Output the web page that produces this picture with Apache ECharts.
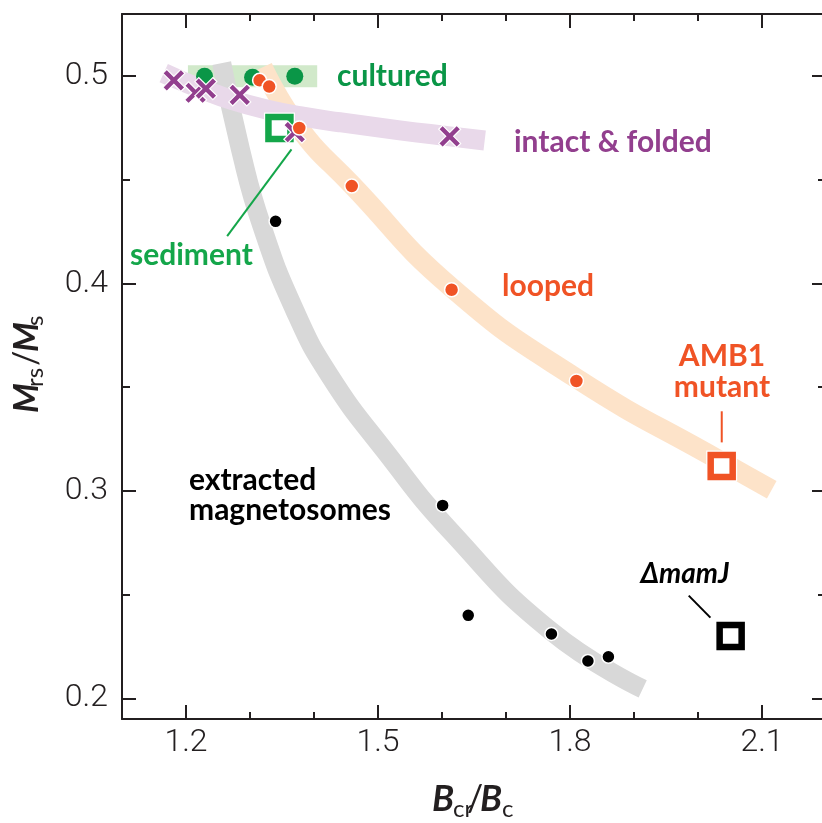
<!DOCTYPE html>
<html><head><meta charset="utf-8">
<script src="https://cdn.jsdelivr.net/npm/echarts@6/dist/echarts.min.js"></script>
<style>html,body{margin:0;padding:0;background:#fff}#c{width:822px;height:823px}</style>
</head><body><div id="c"></div>
<script>
// ---- tick values ----
const xMajorTicks = [1.2, 1.5, 1.8, 2.1];
const xMinorTicks = [1.3, 1.4, 1.6, 1.7, 1.9, 2.0];
const yMajorTicks = [0.2, 0.3, 0.4, 0.5];
const yMinorTicks = [0.25, 0.35, 0.45];

// ---- data points [Bcr/Bc, Mrs/Ms] ----
const cultured = [[1.229, 0.500], [1.304, 0.4995], [1.370, 0.500]];
const looped = [[1.315, 0.498], [1.330, 0.495], [1.377, 0.475], [1.459, 0.447], [1.615, 0.397], [1.810, 0.353]];
const intactFolded = [[1.181, 0.498], [1.215, 0.492], [1.231, 0.494], [1.284, 0.491], [1.370, 0.473], [1.612, 0.471]];
const extracted = [[1.340, 0.430], [1.601, 0.293], [1.641, 0.240], [1.771, 0.231], [1.828, 0.218], [1.860, 0.220]];
const sediment = [[1.346, 0.475]];
const amb1Mutant = [[2.037, 0.312]];
const mamJ = [[2.051, 0.230]];

// ---- trend bands ----
const culturedBand = [[1.203, 0.500], [1.405, 0.500]];
const extractedBand = [[1.2558, 0.5063], [1.2855, 0.4642], [1.3183, 0.4280], [1.3700, 0.3870], [1.4245, 0.3556], [1.5105, 0.3194], [1.6167, 0.2795], [1.7698, 0.2325], [1.9136, 0.2045]];
const loopedBand = [[1.3198, 0.5043], [1.3761, 0.4753], [1.4589, 0.4477], [1.6152, 0.3980], [1.8089, 0.3545], [2.0370, 0.3141], [2.1152, 0.3006]];
const intactBand = [[1.1652, 0.5015], [1.1902, 0.4981], [1.2214, 0.4942], [1.2730, 0.4884], [1.3308, 0.4836], [1.3777, 0.4807], [1.4402, 0.4778], [1.5340, 0.4739], [1.6120, 0.4710], [1.6667, 0.4690]];

// ---- annotation leader lines ----
const sedimentLeader = [[1.3648, 0.4647], [1.2643, 0.4229]];
const amb1Leader = [[2.0371, 0.3384], [2.0371, 0.3234]];
const mamJLeader = [[1.9855, 0.2495], [2.0194, 0.2389]];

const INK = '#231f20';
const GREEN = '#0a9647', GREEN_SQ = '#14a64a', PURPLE = '#923f8e', ORANGE = '#f05325';
const X_PATH = 'path://M0,1.8L1.8,0L5,3.2L8.2,0L10,1.8L6.8,5L10,8.2L8.2,10L5,6.8L1.8,10L0,8.2L3.2,5Z';

const chart = echarts.init(document.getElementById('c'), null, {renderer: 'canvas'});

function xAx(pos, ticks, len, showLine, showLabel) {
  return {
    type: 'value', min: 1.1, max: 2.2, position: pos,
    axisLine: {show: showLine, onZero: false, lineStyle: {color: INK, width: 2}},
    axisTick: {show: true, inside: true, length: len, customValues: ticks, lineStyle: {color: INK, width: 2}},
    axisLabel: {show: showLabel, customValues: ticks, formatter: v => v.toFixed(1), margin: 8,
      fontFamily: 'Roboto', fontWeight: 300, fontSize: 32, color: INK},
    splitLine: {show: false}, minorTick: {show: false}, axisPointer: {show: false}
  };
}
function yAx(pos, ticks, len, showLine, showLabel) {
  return {
    type: 'value', min: 0.19, max: 0.53, position: pos,
    axisLine: {show: showLine, onZero: false, lineStyle: {color: INK, width: 2}},
    axisTick: {show: true, inside: true, length: len, customValues: ticks, lineStyle: {color: INK, width: 2}},
    axisLabel: {show: showLabel, customValues: ticks, formatter: v => v.toFixed(1), margin: 14,
      fontFamily: 'Roboto', fontWeight: 300, fontSize: 32, color: INK},
    splitLine: {show: false}, minorTick: {show: false}
  };
}
function band(data, color, width) {
  return {type: 'line', data: data, smooth: true, symbol: 'none', silent: true,
    lineStyle: {color: color, width: width, cap: 'butt', join: 'round', opacity: 1}, z: 1};
}
function leader(data, color) {
  return {type: 'line', data: data, symbol: 'none', silent: true, lineStyle: {color: color, width: 2}, z: 2};
}
function pts(data, symbol, size, style, z) {
  return {type: 'scatter', data: data, symbol: symbol, symbolSize: size,
    itemStyle: Object.assign({opacity: 1}, style), emphasis: {disabled: true}, z: z};
}
function txt(text, x, y, font, color, align) {
  return {type: 'text', x: x, y: y, z: 100,
    style: {text: text, font: font, fill: color, textAlign: align || 'left', textVerticalAlign: 'middle',
      align: align || 'left', verticalAlign: 'middle'}};
}
function rtxt(text, x, y, font, color) {
  const t = txt(text, x, y, font, color, 'left');
  t.rotation = Math.PI / 2;
  return t;
}

const BOLD = 'bold 30px Lato';
const option = {
  animation: false,
  backgroundColor: '#fff',
  grid: {left: 122, top: 14, width: 704, height: 705, containLabel: false, outerBoundsMode: 'none'},
  xAxis: [
    xAx('bottom', xMajorTicks, 14, true, true),
    xAx('bottom', xMinorTicks, 7, false, false),
    xAx('top', xMajorTicks, 14, true, false),
    xAx('top', xMinorTicks, 7, false, false)
  ],
  yAxis: [
    yAx('left', yMajorTicks, 14, true, true),
    yAx('left', yMinorTicks, 8, false, false),
    yAx('right', yMajorTicks, 14, true, false),
    yAx('right', yMinorTicks, 8, false, false)
  ],
  series: [
    Object.assign(band(culturedBand, '#d1e9ca', 22), {smooth: false}),
    band(extractedBand, '#d8d8d8', 19),
    band(loopedBand, '#fde3c9', 20),
    band(intactBand, '#e9d9ea', 20),
    leader(sedimentLeader, GREEN_SQ),
    leader(amb1Leader, ORANGE),
    leader(mamJLeader, '#000'),
    pts(sediment.concat(amb1Mutant, mamJ), 'rect', 31, {color: '#fff'}, 3),
    pts(sediment, 'rect', 22, {color: '#fff', borderColor: GREEN_SQ, borderWidth: 6.5}, 4),
    pts(amb1Mutant, 'rect', 22, {color: '#fff', borderColor: ORANGE, borderWidth: 6.5}, 4),
    pts(mamJ, 'rect', 22, {color: '#fff', borderColor: '#000', borderWidth: 6.5}, 4),
    pts(extracted, 'circle', 13, {color: '#000', borderColor: '#fff', borderWidth: 1.5}, 5),
    pts(cultured, 'circle', 17, {color: GREEN}, 5),
    pts(intactFolded, X_PATH, 22, {color: PURPLE, borderColor: '#fff', borderWidth: 1.2}, 6),
    pts(looped, 'circle', 14, {color: ORANGE, borderColor: '#fff', borderWidth: 1.5}, 7)
  ],
  graphic: [
    txt('cultured', 337, 76, BOLD, GREEN),
    txt('intact & folded', 514, 142, BOLD, PURPLE),
    txt('looped', 502, 286, BOLD, ORANGE),
    txt('AMB1', 722, 356, BOLD, ORANGE, 'center'),
    txt('mutant', 722, 387, BOLD, ORANGE, 'center'),
    txt('sediment', 130, 255, BOLD, GREEN_SQ),
    txt('extracted', 189, 480, BOLD, '#000'),
    txt('magnetosomes', 189, 510, BOLD, '#000'),
    txt('\u0394mamJ', 685, 574, 'italic bold 28px Lato', '#000', 'center'),
    // x-axis title  B_cr / B_c
    txt('B', 432, 799, 'italic bold 36px Lato', INK),
    txt('cr', 453, 809, '24px Lato', INK),
    txt('/', 467, 799, '36px Lato', INK),
    txt('B', 480, 799, 'italic bold 36px Lato', INK),
    txt('c', 502, 809, '24px Lato', INK),
    // y-axis title  M_rs / M_s (rotated)
    rtxt('M', 27, 413, 'italic bold 34px Lato', INK),
    rtxt('rs', 35, 387, '24px Lato', INK),
    rtxt('/', 27, 366, '34px Lato', INK),
    rtxt('M', 27, 352, 'italic bold 34px Lato', INK),
    rtxt('s', 35, 326, '24px Lato', INK)
  ]
};
chart.setOption(option);
</script>
</body></html>
